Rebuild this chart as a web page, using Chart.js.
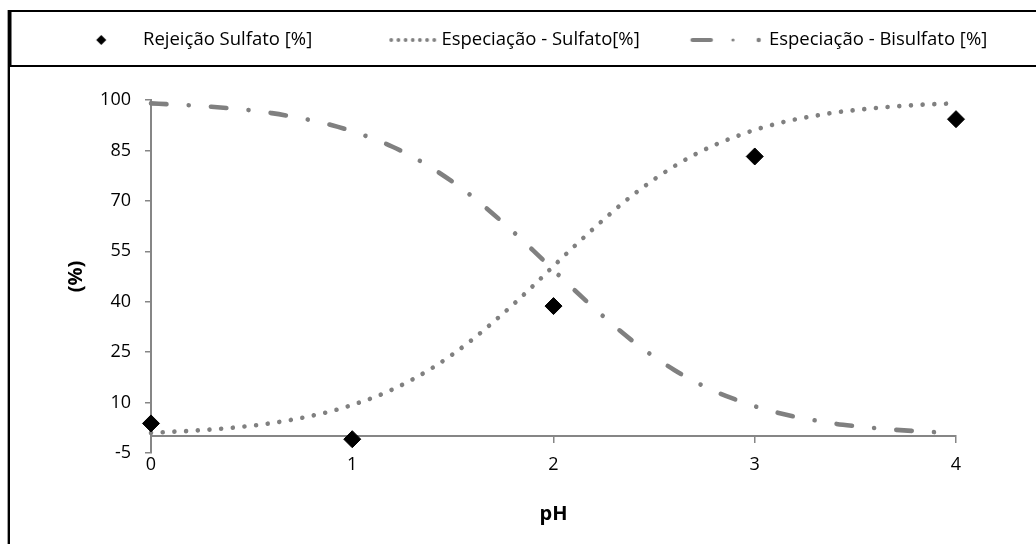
<!DOCTYPE html>
<html><head><meta charset="utf-8">
<script src="https://cdn.jsdelivr.net/npm/chart.js@4/dist/chart.umd.min.js"></script>
<style>html,body{margin:0;padding:0;background:#fff}canvas{display:block}</style>
</head><body>
<canvas id="c" width="1036" height="544"></canvas>
<script>
// ---- data ----
const seriesNames = ['Rejeição Sulfato [%]', 'Especiação - Sulfato[%]', 'Especiação - Bisulfato [%]'];
const xTicks = [0, 1, 2, 3, 4];
const yTicks = [-5, 10, 25, 40, 55, 70, 85, 100];
const rejeicaoPH = [0, 1, 2, 3, 4];
const rejeicaoSulfato = [3.8, -0.9, 38.7, 83.2, 94.3];
const curvePH = [0, 0.1, 0.2, 0.3, 0.4, 0.5, 0.6, 0.7, 0.8, 0.9, 1, 1.1, 1.2, 1.3, 1.4, 1.5, 1.6, 1.7, 1.8, 1.9, 2,
  2.1, 2.2, 2.3, 2.4, 2.5, 2.6, 2.7, 2.8, 2.9, 3, 3.1, 3.2, 3.3, 3.4, 3.5, 3.6, 3.7, 3.8, 3.9, 4];
const especiacaoSulfato = [1.0, 1.3, 1.6, 2.0, 2.5, 3.1, 3.9, 4.9, 6.1, 7.5, 9.3, 11.4, 13.9, 16.9, 20.4, 24.4, 28.9, 33.9, 39.2, 44.8, 50.6,
  56.3, 61.8, 67.1, 72.0, 76.4, 80.3, 83.7, 86.6, 89.0, 91.1, 92.8, 94.2, 95.3, 96.3, 97.0, 97.6, 98.1, 98.5, 98.8, 99.0];
const especiacaoBisulfato = [99.0, 98.7, 98.4, 98.0, 97.5, 96.9, 96.1, 95.1, 93.9, 92.5, 90.7, 88.6, 86.1, 83.1, 79.6, 75.6, 71.1, 66.1, 60.8, 55.2, 49.4,
  43.7, 38.2, 32.9, 28.0, 23.6, 19.7, 16.3, 13.4, 11.0, 8.9, 7.2, 5.8, 4.7, 3.7, 3.0, 2.4, 1.9, 1.5, 1.2, 1.0];

// ---- styling ----
Chart.defaults.font.family = "'Open Sans', 'Noto Sans', sans-serif";
Chart.defaults.color = '#000';
const GRAY = '#808080';
const AXIS = '#868686';
const FS = 18;
const LEG_FS = 18.5;

function legendCanvas(draw) {
  const c = document.createElement('canvas');
  c.width = 100; c.height = 14;
  draw(c.getContext('2d'));
  return c;
}
const legendImgs = [
  legendCanvas(g => { g.fillStyle = '#000'; g.beginPath(); g.moveTo(53.5, 2); g.lineTo(58.5, 7); g.lineTo(53.5, 12); g.lineTo(48.5, 7); g.closePath(); g.fill(); }),
  legendCanvas(g => { g.fillStyle = GRAY; for (let k = 0; k < 7; k++) { g.beginPath(); g.arc(45 + k * 7.17, 7, 1.9, 0, Math.PI * 2); g.fill(); } }),
  legendCanvas(g => {
    g.strokeStyle = GRAY; g.lineCap = 'round'; g.lineWidth = 4.2;
    g.beginPath(); g.moveTo(18.8, 7); g.lineTo(37.2, 7); g.stroke();
    g.fillStyle = GRAY;
    g.beginPath(); g.arc(59.3, 7, 1.6, 0, Math.PI * 2); g.fill();
    g.beginPath(); g.arc(85, 7, 2.2, 0, Math.PI * 2); g.fill();
  })
];

const frame = {
  id: 'frame',
  beforeDraw(chart) {
    const g = chart.ctx;
    g.save();
    g.fillStyle = '#fff'; g.fillRect(0, 0, chart.width, chart.height);
    g.fillStyle = '#a0a0a0'; g.fillRect(7, 10, 1, 534);
    g.fillStyle = '#000';
    g.fillRect(8, 10, 2, 534);
    g.fillRect(8, 10, 1028, 2);
    g.fillRect(8, 65, 1028, 2);
    g.fillRect(10, 10, 1.5, 57);
    g.restore();
  }
};
const LEG_PAD = 48;
const legendPlace = {
  id: 'legendPlace',
  afterInit(chart) {
    const lg = chart.legend;
    const fit = lg.fit;
    lg.fit = function () { fit.call(this); this.height = 100; };
  },
  afterLayout(chart) {
    const lg = chart.legend;
    lg.left = 143 - 72 - LEG_FS / 2 - LEG_PAD;
    lg.right = 1300;
    lg.top = 40 - LEG_FS / 2 - LEG_PAD;
  }
};

const pts = (xs, ys) => xs.map((x, i) => ({ x: x, y: ys[i] }));

new Chart(document.getElementById('c'), {
  type: 'scatter',
  data: {
    datasets: [
      { label: seriesNames[0], data: pts(rejeicaoPH, rejeicaoSulfato), showLine: false, clip: false,
        pointStyle: 'rectRot', pointRadius: 8.5, pointHoverRadius: 8.5,
        backgroundColor: '#000', borderColor: '#000', borderWidth: 1 },
      { label: seriesNames[1], data: pts(curvePH, especiacaoSulfato), showLine: true, clip: false,
        borderColor: GRAY, backgroundColor: GRAY, borderWidth: 4.6, borderDash: [0.01, 11.7],
        borderCapStyle: 'round', pointRadius: 0, pointHoverRadius: 0, cubicInterpolationMode: 'monotone', fill: false },
      { label: seriesNames[2], data: pts(curvePH, especiacaoBisulfato), showLine: true, clip: false,
        borderColor: GRAY, backgroundColor: GRAY, borderWidth: 4.6, borderDash: [15.5, 22.25, 0.01, 22.25],
        borderCapStyle: 'round', pointRadius: 0, pointHoverRadius: 0, cubicInterpolationMode: 'monotone', fill: false }
    ]
  },
  options: {
    responsive: false,
    animation: false,
    events: [],
    layout: { padding: { left: 10, right: 80, top: 0, bottom: 91 } },
    plugins: {
      tooltip: { enabled: false },
      legend: {
        position: 'top',
        align: 'start',
        labels: {
          usePointStyle: true,
          pointStyleWidth: 72,
          padding: LEG_PAD,
          color: '#000',
          font: { size: LEG_FS },
          generateLabels(chart) {
            const items = Chart.defaults.plugins.legend.labels.generateLabels(chart);
            items.forEach((it, i) => { it.pointStyle = legendImgs[i]; it.fontColor = '#000'; });
            return items;
          }
        }
      }
    },
    scales: {
      x: {
        type: 'linear', position: { y: 0 }, min: 0, max: 4,
        afterBuildTicks: s => { s.ticks = xTicks.map(v => ({ value: v })); },
        afterFit: s => { s.height = 91; },
        grid: { drawOnChartArea: false, drawTicks: true, tickLength: 6, color: AXIS, lineWidth: 1.5 },
        border: { color: AXIS, width: 2 },
        ticks: { padding: 12, color: '#000', font: { size: FS }, maxRotation: 0, autoSkip: false },
        title: { display: true, text: 'pH', color: '#000', font: { size: 20, weight: 'bold' }, padding: { top: 0, bottom: 1 } }
      },
      y: {
        type: 'linear', position: 'left', min: -5, max: 100,
        afterBuildTicks: s => { s.ticks = yTicks.map(v => ({ value: v })); },
        afterFit: s => { s.width = 141; },
        grid: { drawOnChartArea: false, drawTicks: true, tickLength: 6, color: AXIS, lineWidth: 1.5 },
        border: { color: AXIS, width: 2 },
        ticks: { padding: 14, color: '#000', font: { size: FS } },
        title: { display: true, text: '(%)', color: '#000', font: { size: 20, weight: 'bold' }, padding: { top: 54, bottom: 0 } }
      }
    }
  },
  plugins: [frame, legendPlace]
});
</script>
</body></html>
